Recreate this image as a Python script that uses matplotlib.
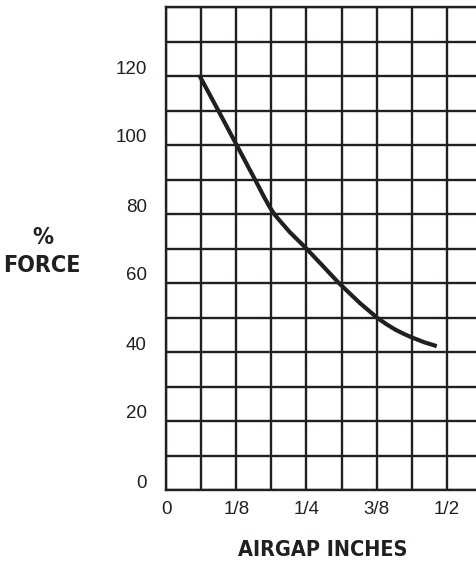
import matplotlib
matplotlib.use("Agg")
import matplotlib.pyplot as plt
from matplotlib import font_manager
from matplotlib.font_manager import FontProperties
from matplotlib.transforms import ScaledTranslation
import os

# ---- data ----
airgap_in = [0.059, 0.095, 0.127, 0.160, 0.175, 0.185, 0.194, 0.205, 0.220, 0.248,
             0.280, 0.307, 0.345, 0.376, 0.392, 0.408, 0.424, 0.438, 0.460, 0.482]
force_pct = [120.3, 109.4, 99.6, 89.5, 84.8, 81.9, 79.7, 77.6, 74.8, 70.3,
             64.8, 60.1, 54.2, 49.9, 48.1, 46.5, 45.2, 44.2, 42.8, 41.7]

x_ticks = [0, 0.125, 0.25, 0.375, 0.5]
x_tick_labels = ["0", "1/8", "1/4", "3/8", "1/2"]
y_ticks = [0, 20, 40, 60, 80, 100, 120]
y_tick_labels = ["0", "20", "40", "60", "80", "100", "120"]
x_label = "AIRGAP INCHES"
y_label_top = "%"
y_label_bottom = "FORCE"

# ---- pick a condensed bold face for the axis titles ----
files = {os.path.basename(f.fname).lower(): f.fname for f in font_manager.fontManager.ttflist}
prefs = ["liberationsansnarrow-bold.ttf", "notosans-condensedsemibold.ttf",
         "notosans-condensedbold.ttf", "notosans-condensedmedium.ttf",
         "dejavusanscondensed-bold.ttf", "dejavusanscondensed.ttf"]
title_fp = None
for p in prefs:
    if p in files:
        title_fp = FontProperties(fname=files[p])
        break
if title_fp is None:
    title_fp = FontProperties(family="Liberation Sans", weight="bold")

regular = "Liberation Sans"
INK = "#231f20"
W, H = 477, 564
fig = plt.figure(figsize=(W / 100, H / 100), dpi=100)

# axes from x=166px to 482px (beyond the right edge), y=7px..490px
x0, x1 = 166, 482
ytop, ybot = 7, 490
ax = fig.add_axes([x0 / W, (H - ybot) / H, (x1 - x0) / W, (ybot - ytop) / H])
ax.set_xlim(0, 9 / 16)
ax.set_ylim(0, 140)

# grid
ax.set_xticks([i / 16 for i in range(10)])
ax.set_yticks([i * 10 for i in range(15)])
ax.grid(True, color=INK, linewidth=1.7)
ax.set_axisbelow(True)
for s in ["left", "bottom", "top"]:
    ax.spines[s].set_color(INK)
    ax.spines[s].set_linewidth(1.7)
ax.spines["right"].set_visible(False)
ax.tick_params(length=0, labelbottom=False, labelleft=False)

# tick labels as text
for xv, lab in zip(x_ticks, x_tick_labels):
    ax.text(xv, 0, lab, transform=ax.transData + ScaledTranslation(0, -20 / 100, fig.dpi_scale_trans),
            ha="center", va="center", fontsize=13.5, family=regular, color=INK)
for yv, lab in zip(y_ticks, y_tick_labels):
    ax.text(0, yv, lab, transform=ax.transData + ScaledTranslation(-19 / 100, 7 / 100, fig.dpi_scale_trans),
            ha="right", va="center", fontsize=13.5, family=regular, color=INK)

# curve
ax.plot(airgap_in, force_pct, color=INK, linewidth=3.0, solid_capstyle="butt",
        solid_joinstyle="round", zorder=5)

# axis titles, sized to the widths seen in the reference
renderer = fig.canvas.get_renderer()


def fitted_text(cx, cy, s, target_w, max_size):
    t = fig.text(cx / W, 1 - cy / H, s, ha="center", va="center",
                 fontproperties=title_fp.copy(), color=INK)
    t.set_fontsize(20)
    w = t.get_window_extent(renderer).width
    t.set_fontsize(min(max_size, 20 * target_w / w))
    return t


fitted_text(43, 237, y_label_top, 21, 21)
fitted_text(42, 266, y_label_bottom, 78, 21)
fitted_text(323, 550, x_label, 170, 20)

fig.savefig("out.png", dpi=100)
